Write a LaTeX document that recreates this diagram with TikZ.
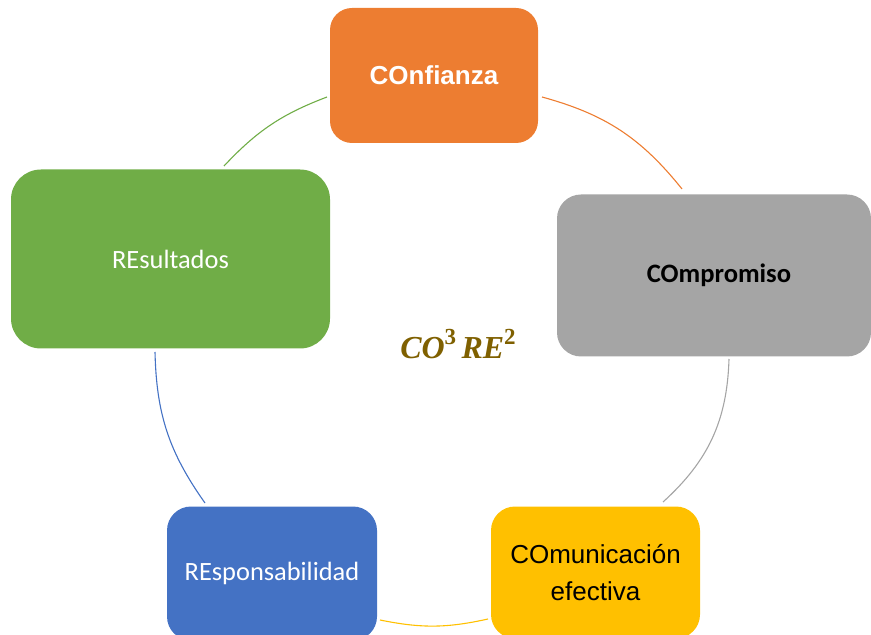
\documentclass[tikz,border=0pt]{standalone}
\usepackage{fontspec}
\setmainfont{Liberation Sans}
\newfontfamily\calibrilike{Carlito}
\newfontfamily\formulafont{Liberation Serif}
\usetikzlibrary{topaths}

\definecolor{cOrange}{HTML}{ED7D31}
\definecolor{cGray}{HTML}{A5A5A5}
\definecolor{cYellow}{HTML}{FFC000}
\definecolor{cBlue}{HTML}{4472C4}
\definecolor{cGreen}{HTML}{70AD47}
\definecolor{cGold}{HTML}{7F6000}

% raised bold upright exponent for the centre formula
\newcommand{\expo}[1]{\raisebox{0.42em}{\fontsize{11.5}{12}\selectfont\upshape\bfseries #1}}

\tikzset{
  cyclebox/.style={draw=none, inner sep=0pt, align=center,
    font=\fontsize{13}{18.5}\selectfont},
  ring/.style={line width=0.55pt},
}

\begin{document}
\begin{tikzpicture}[x=0.5pt, y=-0.5pt]
  \useasboundingbox (0,0) rectangle (871,635);
  \clip (0,0) rectangle (871,635);

  % the five stages, clockwise from the top
  \node[cyclebox, fill=cOrange, rounded corners=11pt,
        minimum width=104pt, minimum height=67.5pt,
        text=white, font=\fontsize{13}{18.5}\selectfont\bfseries]
        (conf) at (434,75.5) {COnfianza};
  \node[cyclebox, fill=cGray, rounded corners=12pt,
        minimum width=157pt, minimum height=81pt,
        text=black, font=\fontsize{13.3}{18.5}\selectfont\calibrilike\bfseries]
        (comp) at (714,275.5) {\hspace*{5pt}COmpromiso};
  \node[cyclebox, fill=cYellow, rounded corners=12pt,
        minimum width=104.5pt, minimum height=66pt, text=black]
        (comu) at (595.5,572.5) {COmunicación\\efectiva};
  \node[cyclebox, fill=cBlue, rounded corners=12pt,
        minimum width=105pt, minimum height=67pt,
        text=white, font=\fontsize{13.2}{18.5}\selectfont\calibrilike]
        (resp) at (272,573.5) {REsponsabilidad};
  \node[cyclebox, fill=cGreen, rounded corners=15pt,
        minimum width=159.5pt, minimum height=89.5pt,
        text=white, font=\fontsize{13.2}{18.5}\selectfont\calibrilike]
        (resu) at (170.5,259) {REsultados};

  % centre formula
  \node[text=cGold, inner sep=0pt,
        font=\fontsize{16}{18}\selectfont\formulafont\bfseries\itshape]
        (core) at (458,344) {CO\expo{3}\,RE\expo{2}};

  % ends of the ring segments between the stages
  \coordinate (o1) at (542,97);  \coordinate (o2) at (682,189);
  \coordinate (g1) at (729,359); \coordinate (g2) at (663,502);
  \coordinate (y1) at (488,619); \coordinate (y2) at (380,620);
  \coordinate (b1) at (205,503); \coordinate (b2) at (155,352);
  \coordinate (r1) at (224,166); \coordinate (r2) at (327,97);

  \draw[ring, cOrange] (o1) to[bend left=18] (o2);
  \draw[ring, cGray]   (g1) to[bend left=23] (g2);
  \draw[ring, cYellow] (y1) to[bend left=12] (y2);
  \draw[ring, cBlue]   (b1) to[bend left=17] (b2);
  \draw[ring, cGreen]  (r1) to[bend left=13] (r2);
\end{tikzpicture}
\end{document}
